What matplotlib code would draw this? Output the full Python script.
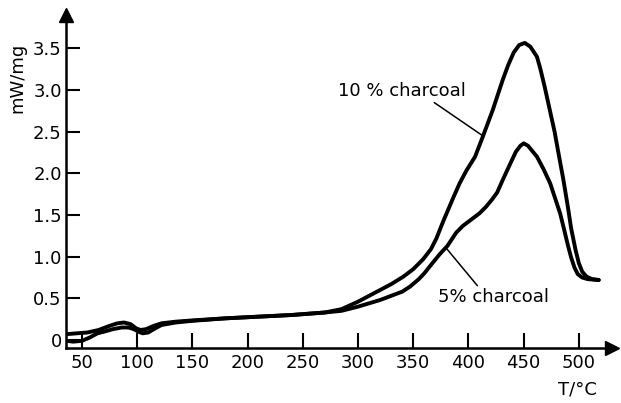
import matplotlib
matplotlib.use("Agg")
import matplotlib.pyplot as plt

# --- data ---
t_10 = [36, 45, 55, 65, 75, 82, 88, 94, 99, 103, 108, 115, 122, 135, 150, 180, 210, 240,
        270, 285, 300, 310, 320, 330, 341, 350, 359, 366, 371, 377, 386, 392, 398, 406,
        413, 422, 431, 436, 441, 446, 451, 456, 462, 465, 469, 475, 478, 481, 486, 490,
        493, 497, 500, 503, 507, 512, 518]
y_10 = [0.07, 0.08, 0.09, 0.12, 0.17, 0.20, 0.21, 0.19, 0.14, 0.12, 0.13, 0.17, 0.20,
        0.22, 0.235, 0.26, 0.28, 0.30, 0.33, 0.37, 0.46, 0.53, 0.60, 0.67, 0.76, 0.85,
        0.97, 1.09, 1.22, 1.42, 1.70, 1.88, 2.03, 2.20, 2.44, 2.76, 3.12, 3.30, 3.45,
        3.54, 3.565, 3.52, 3.40, 3.26, 3.04, 2.68, 2.50, 2.28, 1.92, 1.60, 1.34, 1.08,
        0.92, 0.82, 0.76, 0.73, 0.72]

t_5 = [36, 42, 50, 57, 64, 70, 78, 86, 92, 97, 101, 105, 110, 115, 122, 135, 150, 180,
       210, 240, 270, 285, 300, 310, 320, 330, 340, 347, 355, 360, 366, 374, 381, 389,
       395, 404, 410, 416, 421, 426, 431, 438, 443, 447, 450, 454, 462, 468, 474, 478,
       483, 486, 490, 493, 496, 499, 503, 508, 518]
y_5 = [-0.01, -0.02, -0.01, 0.03, 0.08, 0.10, 0.13, 0.15, 0.15, 0.13, 0.10, 0.08, 0.09,
       0.13, 0.18, 0.21, 0.23, 0.26, 0.28, 0.30, 0.33, 0.35, 0.40, 0.44, 0.48, 0.53,
       0.58, 0.64, 0.73, 0.80, 0.90, 1.03, 1.13, 1.29, 1.37, 1.46, 1.52, 1.60, 1.68,
       1.77, 1.92, 2.12, 2.26, 2.33, 2.36, 2.33, 2.20, 2.05, 1.88, 1.72, 1.52, 1.36,
       1.14, 0.99, 0.87, 0.79, 0.75, 0.73, 0.72]

x_ticks = [50, 100, 150, 200, 250, 300, 350, 400, 450, 500]
y_ticks = [0, 0.5, 1.0, 1.5, 2.0, 2.5, 3.0, 3.5]
y_ticklabels = ["0", "0.5", "1.0", "1.5", "2.0", "2.5", "3.0", "3.5"]

label_10 = "10 % charcoal"
label_5 = "5% charcoal"

# --- figure ---
fig = plt.figure(figsize=(6.21, 4.03), dpi=100)
ax = fig.add_axes([0.1063, 0.1365, 0.8792, 0.8263])

ax.plot(t_10, y_10, color="black", lw=2.8, solid_capstyle="round", solid_joinstyle="round")
ax.plot(t_5, y_5, color="black", lw=2.8, solid_capstyle="round", solid_joinstyle="round")

ax.set_xlim(35.5, 530)
ax.set_ylim(-0.096, 3.90)

for s in ["top", "right"]:
    ax.spines[s].set_visible(False)
for s in ["left", "bottom"]:
    ax.spines[s].set_linewidth(1.8)

ax.set_xticks(x_ticks)
ax.set_yticks(y_ticks)
ax.set_yticklabels(y_ticklabels)
ax.tick_params(axis="x", direction="in", length=11, width=1.5, pad=4, labelsize=13)
ax.tick_params(axis="y", direction="in", length=10, width=1.5, pad=3, labelsize=13)

# axis arrows
ax.plot(0, 1, marker="^", color="black", markersize=10, transform=ax.transAxes, clip_on=False)
ax.plot(1, 0, marker=">", color="black", markersize=10, transform=ax.transAxes, clip_on=False)

# axis labels
fig.text(17 / 621, 1 - 78 / 403, "mW/mg", rotation=90, ha="center", va="center", fontsize=13)
fig.text(577 / 621, 1 - 389 / 403, "T/°C", ha="center", va="center", fontsize=13)

# annotations
ax.annotate(label_10, xy=(413, 2.45), xytext=(282, 2.99), fontsize=13,
            ha="left", va="center",
            arrowprops=dict(arrowstyle="-", color="black", lw=1.1,
                            shrinkA=0, shrinkB=0, relpos=(0.72, 0.0)))
ax.annotate(label_5, xy=(380, 1.10), xytext=(372, 0.51), fontsize=13,
            ha="left", va="center",
            arrowprops=dict(arrowstyle="-", color="black", lw=1.1,
                            shrinkA=0, shrinkB=0, relpos=(0.38, 1.0)))

fig.savefig("out.png", dpi=100)
